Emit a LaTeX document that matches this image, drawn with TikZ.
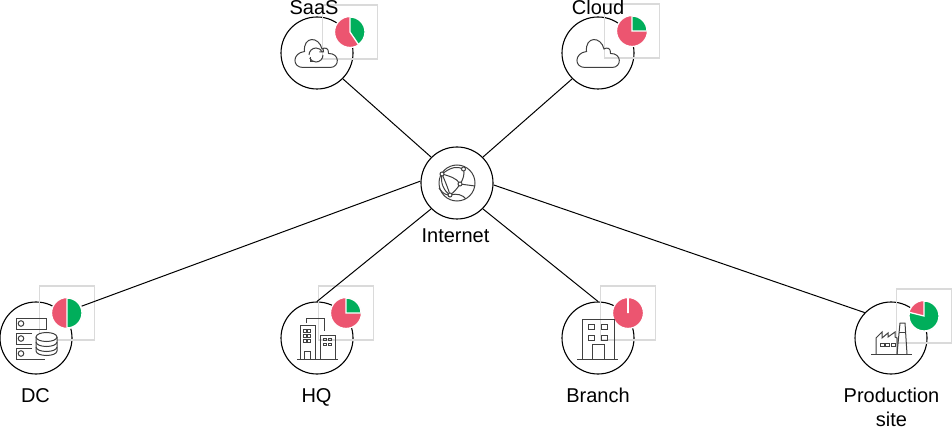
\documentclass[tikz,border=0pt]{standalone}
\usepackage{fontspec}
\setmainfont{Liberation Sans}
\definecolor{pinkred}{HTML}{EC5570}
\definecolor{leafgreen}{HTML}{00AE5B}
\definecolor{framegray}{HTML}{DADADA}
\definecolor{icongray}{HTML}{404040}
\begin{document}
\begin{tikzpicture}[
    x=1pt,y=-1pt,
    every node/.style={font=\fontsize{20}{25}\selectfont},
    sitecircle/.style={draw=black,line width=1.1pt,circle,minimum size=72pt,inner sep=0pt},
    link/.style={draw=black,line width=1pt},
    framebox/.style={draw=framegray,line width=1.3pt},
    piebase/.style={draw=white,line width=1.3pt,fill=pinkred,circle,minimum size=31pt,inner sep=0pt},
    pieslice/.style={draw=white,line width=1.3pt,fill=leafgreen},
    icon/.style={draw=icongray,line width=1pt},
    sitelabel/.style={align=center,inner sep=0pt,anchor=base}
]
\useasboundingbox (0,0) rectangle (952,427);

% ---------- macro to draw one usage pie with its frame ----------
% #1 = node name
% #2 = centre x, #3 = centre y
% #4 = degrees of the green part
\newcommand{\usagepie}[4]{
    \draw[framebox] (#2-27.5,#3-27) rectangle (#2+27.5,#3+27);
    \node[piebase] (#1) at (#2,#3) {};
    \draw[pieslice] (#2,#3) -- ++(0,-15) arc[start angle=-90,end angle=-90+#4,radius=15] -- cycle;
}

% ---------- macro for the cloud outline ----------
\newcommand{\cloudicon}{
    \draw[icon] (-13,14.5) -- (14,14.5)
        .. controls (24,14.5) and (24,0) .. (12.5,0.5)
        .. controls (13,-5) and (9,-6) .. (6,-4)
        .. controls (3,-17) and (-13,-17) .. (-11.5,-1.5)
        .. controls (-24,0) and (-24,14.5) .. (-13,14.5) -- cycle;
}

% ---------- sites ----------
\node[sitecircle] (saas) at (317,53) {};
\node[sitecircle] (cloud) at (598,53) {};
\node[sitecircle] (internet) at (457,183) {};
\node[sitecircle] (dc) at (36,338) {};
\node[sitecircle] (hq) at (317,338) {};
\node[sitecircle] (branch) at (598,338) {};
\node[sitecircle] (prod) at (891,338) {};

% ---------- frames and pies ----------
\usagepie{saaspie}{350}{32}{146}
\usagepie{cloudpie}{632}{31}{90}
\usagepie{dcpie}{67}{313}{180}
\usagepie{hqpie}{346}{313}{90}
\usagepie{branchpie}{628}{313}{0}
\usagepie{prodpie}{924}{316}{284}

% ---------- links ----------
\draw[link] (internet.135) -- (saas.315);
\draw[link] (internet.45) -- (cloud.225);
\draw[link] (internet.177) -- (dcpie.25);
\draw[link] (internet.225) -- (hq.north);
\draw[link] (internet.315) -- (branch.north);
\draw[link] (internet.357) -- (prod.136);

% ---------- SaaS icon ----------
\begin{scope}[shift={(316,53)}]
    \cloudicon
    \draw[icon] (-7,2) arc[start angle=180,end angle=335,radius=7];
    \draw[icon] (7,2) arc[start angle=0,end angle=155,radius=7];
    \draw[icon] (7,-5) -- (7.5,-1) -- (3.3,-1);
    \draw[icon] (-6,4) -- (-6,9) -- (-1.7,9);
\end{scope}

% ---------- Cloud icon ----------
\begin{scope}[shift={(598,53)}]
    \cloudicon
\end{scope}

% ---------- Internet icon ----------
\begin{scope}[shift={(457,183)}]
    \draw[icon] (0,0) circle[radius=18];
    \draw[icon] (-15,-9) .. controls (-6,-16) and (0,-17) .. (6.5,-14);
    \draw[icon] (-15,-9) .. controls (-8,-7) and (0,-5) .. (3,1);
    \draw[icon] (-15,-9) .. controls (-17,0) and (-13,8) .. (-7,12);
    \draw[icon] (-15,-9) .. controls (-12,-2) and (-9,5) .. (-7,12);
    \draw[icon] (6.5,-14) .. controls (8,-9) and (6,-3) .. (3,1);
    \draw[icon] (3,1) .. controls (0,6) and (-3,9) .. (-7,12);
    \draw[icon] (3,1) -- (18,3);
    \draw[icon] (-7,12) .. controls (0,10) and (6,12) .. (9,16);
    \draw[icon] (-18,5) .. controls (-14,11) and (-11,12) .. (-7,12);
    \foreach \px/\py in {-15/-9,6.5/-14,3/1,-7/12}{
        \draw[icon,fill=white] (\px,\py) circle[radius=2];
    }
\end{scope}

% ---------- DC icon ----------
\begin{scope}[shift={(35,338)}]
    \draw[icon] (-19,-20) rectangle (11,-9);
    \draw[icon] (-3,-5) -- (-19,-5) -- (-19,6) -- (-3,6);
    \draw[icon] (-3,10) -- (-19,10) -- (-19,21) -- (10,21);
    \foreach \py in {-14.5,0.5,15.5}{
        \draw[icon] (-14,\py) circle[radius=2.8];
    }
    \draw[icon,fill=white] (1,-1) -- (1,13) arc[start angle=180,end angle=0,x radius=10.5,y radius=4.5] -- (22,-1);
    \draw[icon,fill=white] (11.5,-1) ellipse[x radius=10.5,y radius=4.5];
    \draw[icon] (1,4) arc[start angle=180,end angle=0,x radius=10.5,y radius=4.5];
    \draw[icon] (1,9) arc[start angle=180,end angle=0,x radius=10.5,y radius=4.5];
\end{scope}

% ---------- HQ icon ----------
\begin{scope}[shift={(317,338)}]
    \draw[icon] (-20,21) -- (21,21);
    \draw[icon] (-17,21) -- (-17,-13) -- (-2,-13) -- (-2,21);
    \draw[icon] (3,21) -- (3,-3) -- (18,-3) -- (18,21);
    \draw[icon] (-11,-15) -- (-11,-19.5) -- (7,-19.5) -- (7,-7);
    \draw[icon] (-13,21) -- (-13,13) -- (-7,13) -- (-7,21);
    \foreach \wx in {-14,-9.5}{
        \foreach \wy in {-9,-3.5,1.5}{
            \draw[icon,line width=.8pt] (\wx,\wy) rectangle ++(3,3);
        }
    }
    \foreach \wx in {6.5,11}{
        \foreach \wy in {0,5}{
            \draw[icon,line width=.8pt] (\wx,\wy) rectangle ++(3,2.8);
        }
    }
\end{scope}

% ---------- Branch icon ----------
\begin{scope}[shift={(598,338)}]
    \draw[icon] (-21,21) -- (20,21);
    \draw[icon] (-16,21) -- (-16,-19) -- (16,-19) -- (16,21);
    \draw[icon] (-6,21) -- (-6,6) -- (6,6) -- (6,21);
    \foreach \wx in {-10,3}{
        \foreach \wy in {-14,-3}{
            \draw[icon] (\wx,\wy) rectangle ++(6,5.5);
        }
    }
\end{scope}

% ---------- Production icon ----------
\begin{scope}[shift={(891,338)}]
    \draw[icon] (-20,16) -- (21,16);
    \draw[icon] (-15,16) -- (-15,0) -- (-9,-6) -- (-9,0) -- (-3,-5) -- (-3,-1) -- (4,-6) -- (4,-1) -- (6,0) -- (6,16);
    \draw[icon] (6,16) -- (9,-15) -- (14,-15) -- (16,16);
    \draw[icon] (8,-6) -- (15,-6);
    \foreach \wx in {-11,-5.5,0}{
        \draw[icon,line width=.8pt] (\wx,5) rectangle ++(4,3.5);
    }
\end{scope}

% ---------- labels ----------
\node[sitelabel] (saaslabel) at (314,15) {SaaS};
\node[sitelabel] (cloudlabel) at (598,15) {Cloud};
\node[sitelabel] (internetlabel) at (455.5,243) {Internet};
\node[sitelabel] (dclabel) at (35.5,402) {DC};
\node[sitelabel] (hqlabel) at (316.5,402) {HQ};
\node[sitelabel] (branchlabel) at (598,402) {Branch};
\node[sitelabel] (prodlabel) at (891.5,402) {Production};
\node[sitelabel] (prodlabelb) at (891.5,426) {site};

\end{tikzpicture}
\end{document}
